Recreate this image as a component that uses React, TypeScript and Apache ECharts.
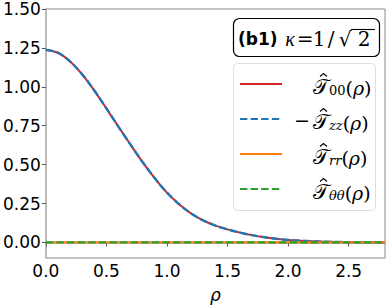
import React, { useEffect, useRef } from "react";
import * as echarts from "echarts";

const rho = [0, 0.1, 0.2, 0.3, 0.4, 0.5, 0.6, 0.7, 0.8, 0.9, 1.0, 1.1, 1.2, 1.3, 1.4, 1.5, 1.6, 1.7, 1.8, 1.9, 2.0, 2.1, 2.2, 2.3, 2.4, 2.5, 2.6, 2.7, 2.8];
const t00 = [1.237, 1.219, 1.163, 1.08, 0.976, 0.861, 0.743, 0.627, 0.515, 0.412, 0.32, 0.246, 0.186, 0.141, 0.108, 0.084, 0.064, 0.047, 0.034, 0.024, 0.016, 0.011, 0.007, 0.005, 0.003, 0.002, 0.001, 0.001, 0.0];
const tzzNeg = [1.237, 1.219, 1.163, 1.08, 0.976, 0.861, 0.743, 0.627, 0.515, 0.412, 0.32, 0.246, 0.186, 0.141, 0.108, 0.084, 0.064, 0.047, 0.034, 0.024, 0.016, 0.011, 0.007, 0.005, 0.003, 0.002, 0.001, 0.001, 0.0];
const trr = [0, 0, 0, 0, 0, 0, 0, 0, 0, 0, 0, 0, 0, 0, 0, 0, 0, 0, 0, 0, 0, 0, 0, 0, 0, 0, 0, 0, 0];
const tth = [0, 0, 0, 0, 0, 0, 0, 0, 0, 0, 0, 0, 0, 0, 0, 0, 0, 0, 0, 0, 0, 0, 0, 0, 0, 0, 0, 0, 0];

const xTicks = [0, 0.5, 1.0, 1.5, 2.0, 2.5];
const yTicks = [0, 0.25, 0.5, 0.75, 1.0, 1.25, 1.5];

const RED = "#d62728";
const BLUE = "#1f77b4";
const ORANGE = "#ff7f0e";
const GREEN = "#2ca02c";

const legendItems = [
  { color: RED, dashed: false, pre: "", sub: "00" },
  { color: BLUE, dashed: true, pre: "−", sub: "zz" },
  { color: ORANGE, dashed: false, pre: "", sub: "rr" },
  { color: GREEN, dashed: true, pre: "", sub: "θθ" },
];

const SANS = "DejaVu Sans";
const SERIF = "DejaVu Serif";

export default function App() {
  const ref = useRef<HTMLDivElement>(null);
  useEffect(() => {
    document.body.style.margin = "0";
    const chart = echarts.init(ref.current!, null, { renderer: "svg" });
    const mk = (d: number[]) => rho.map((r, i) => [r, d[i]]);
    const legendGraphics: any[] = [];
    legendItems.forEach((it, i) => {
      const y = 84 + i * 35;
      legendGraphics.push({
        type: "line",
        shape: { x1: 240, y1: y, x2: 282, y2: y },
        style: { stroke: it.color, lineWidth: 2, lineDash: it.dashed ? [7.4, 3.2] : null },
        z: 101,
      });
      if (it.pre) {
        legendGraphics.push({
          type: "text",
          x: 310,
          y: y + 1,
          style: { text: it.pre, align: "right", verticalAlign: "middle", fill: "#000", fontFamily: SERIF, fontSize: 19 },
          z: 101,
        });
      }
      legendGraphics.push({
        type: "text",
        x: 313,
        y: y + 1,
        style: {
          text: "{T|𝒯}{s|" + it.sub + "}{t|(}{r|ρ}{t|)}",
          align: "left",
          verticalAlign: "middle",
          fill: "#000",
          rich: {
            T: { fontFamily: SERIF, fontSize: 21, lineHeight: 24, verticalAlign: "bottom" },
            t: { fontFamily: SERIF, fontSize: 19, lineHeight: 24, verticalAlign: "bottom" },
            r: { fontFamily: SERIF, fontStyle: "italic", fontSize: 19, lineHeight: 24, verticalAlign: "bottom" },
            s: { fontFamily: SERIF, fontStyle: it.sub === "00" ? "normal" : "italic", fontSize: 13, lineHeight: 13, verticalAlign: "bottom" },
          },
        },
        z: 101,
      });
      legendGraphics.push({
        type: "polyline",
        shape: { points: [[320, y - 7.5], [323.5, y - 10.5], [327, y - 7.5]] },
        style: { stroke: "#000", lineWidth: 1.1, fill: null },
        z: 101,
      });
    });

    const titleY = 39;
    const mathText = (txt: string, x: number, italic = false, family = SERIF) => ({
      type: "text",
      x,
      y: titleY,
      style: { text: txt, align: "center", verticalAlign: "middle", fill: "#000", fontFamily: family, fontStyle: italic ? "italic" : "normal", fontSize: 20 },
      z: 101,
    });

    chart.setOption({
      animation: false,
      grid: { left: 45, right: 6, top: 9, bottom: 45, show: true, borderColor: "#888", borderWidth: 1, containLabel: false },
      xAxis: {
        type: "value",
        min: 0,
        max: 2.8,
        name: "ρ",
        nameLocation: "middle",
        nameGap: 28,
        nameTextStyle: { fontFamily: SANS, fontStyle: "italic", fontSize: 17, color: "#000" },
        axisLine: { show: true, lineStyle: { color: "#aaa", width: 1.5 } },
        axisTick: { show: true, inside: false, length: 4, lineStyle: { color: "#555" }, customValues: xTicks },
        axisLabel: { fontFamily: SANS, fontSize: 17, color: "#000", margin: 4, customValues: xTicks, formatter: (v: number) => v.toFixed(1) },
        splitLine: { show: false },
      },
      yAxis: {
        type: "value",
        min: -0.1,
        max: 1.5,
        axisLine: { show: true, lineStyle: { color: "#bbb", width: 2 } },
        axisTick: { show: true, inside: false, length: 4, lineStyle: { color: "#555" }, customValues: yTicks },
        axisLabel: { fontFamily: SANS, fontSize: 17, color: "#000", margin: 5, customValues: yTicks, formatter: (v: number) => v.toFixed(2) },
        splitLine: { show: false },
      },
      series: [
        { type: "line", data: mk(t00), smooth: 0.35, symbol: "none", lineStyle: { color: RED, width: 2 }, z: 2 },
        { type: "line", data: mk(tzzNeg), smooth: 0.35, symbol: "none", lineStyle: { color: BLUE, width: 2.4, type: [7.4, 3.2] }, z: 3 },
        { type: "line", data: mk(trr), symbol: "none", lineStyle: { color: ORANGE, width: 2.2 }, z: 4 },
        { type: "line", data: mk(tth), symbol: "none", lineStyle: { color: GREEN, width: 2.2, type: [7.4, 3.2] }, z: 5 },
      ],
      graphic: [
        {
          type: "rect",
          shape: { x: 233.5, y: 18.5, width: 146, height: 38, r: 6 },
          style: { fill: "#fff", stroke: "#000", lineWidth: 1.2 },
          z: 100,
        },
        {
          type: "text",
          x: 238,
          y: titleY,
          style: { text: "(b1)", align: "left", verticalAlign: "middle", fill: "#000", fontFamily: SANS, fontWeight: "bold", fontSize: 17 },
          z: 101,
        },
        mathText("κ", 290, true, "Liberation Serif"),
        mathText("=", 305),
        mathText("1", 319),
        mathText("/", 331),
        mathText("√", 345),
        mathText("2", 364),
        {
          type: "line",
          shape: { x1: 351, y1: 29.5, x2: 375, y2: 29.5 },
          style: { stroke: "#000", lineWidth: 1.1 },
          z: 101,
        },
        {
          type: "rect",
          shape: { x: 233.5, y: 63.5, width: 142, height: 147, r: 4 },
          style: { fill: "rgba(255,255,255,0.8)", stroke: "#ddd", lineWidth: 1 },
          z: 100,
        },
        ...legendGraphics,
      ],
    });
    return () => chart.dispose();
  }, []);
  return <div ref={ref} style={{ width: 391, height: 308 }} />;
}
